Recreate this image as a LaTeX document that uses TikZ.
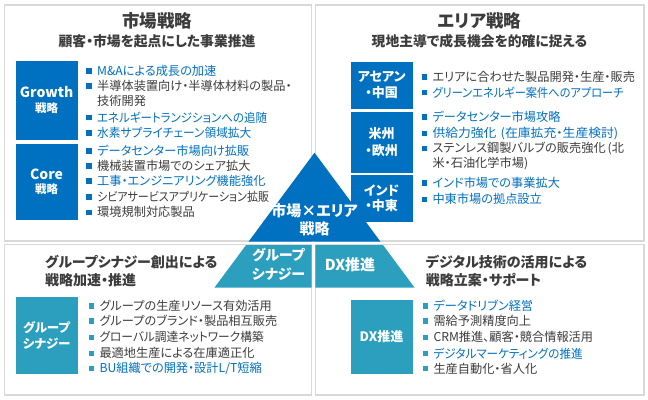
\documentclass[tikz,border=0pt]{standalone}
\usepackage{fontspec}
\setmainfont[RawFeature=+palt]{Noto Sans CJK JP}
\definecolor{mblue}{HTML}{0070C0}
\definecolor{mteal}{HTML}{2C9FBE}
\definecolor{mdark}{HTML}{3C3C3C}
\definecolor{mframe}{HTML}{D9D9D9}
\newcommand{\litem}[6]{%
  \fill[#5] (#2-10.6,#3-2.6) rectangle (#2-5.2,#3+2.8);
  \node[txt,text=#4] (#1) at (#2,#3) {#6};}
\newcommand{\sq}[2]{\scalebox{#1}[1]{#2}}
\begin{document}
\begin{tikzpicture}[x=1pt,y=-1pt,
  panel/.style={draw=mframe,line width=1.3pt,fill=white},
  txt/.style={anchor=west,inner sep=0pt,font=\fontsize{12.2}{14}\selectfont},
  ttl/.style={inner sep=0pt,text=mdark,font=\fontsize{17.5}{20}\selectfont\bfseries},
  sub/.style={inner sep=0pt,text=mdark,font=\fontsize{13.8}{17}\selectfont\bfseries},
  btitle/.style={anchor=west,inner sep=0pt,text=mdark,align=left,font=\fontsize{14}{18.5}\selectfont\bfseries},
  bx/.style={anchor=north west,inner sep=0pt,text=white,align=center},
  tri/.style={inner sep=0pt,text=white,align=center,font=\fontsize{15}{17.6}\selectfont\bfseries}]
\useasboundingbox (0,0) rectangle (648,399);
\fill[white] (0,0) rectangle (648,399);
% panels
\draw[panel] (4.5,5) rectangle (311.5,241);
\draw[panel] (315.5,5) rectangle (644,241);
\draw[panel] (4.5,244.5) rectangle (311.5,395);
\draw[panel] (315.5,244.5) rectangle (644,395);
% ---------- top left
\node[ttl] (t1) at (157,20.5) {市場戦略};
\node[sub] (s1) at (157,41.5) {顧客・市場を起点にした事業推進};
\node[bx,fill=mblue,minimum width=61.3pt,minimum height=78.3pt] (growth) at (16,61) {};
\node[inner sep=0pt,text=white,align=center,font=\fontsize{14}{15.6}\selectfont\bfseries] (growthT) at (46.6,100) {Growth\\[-1pt]{\fontsize{11.5}{13}\selectfont 戦略}};
\node[bx,fill=mblue,minimum width=61.3pt,minimum height=75.3pt] (core) at (16,144) {};
\node[inner sep=0pt,text=white,align=center,font=\fontsize{14}{15.6}\selectfont\bfseries] (coreT) at (46.6,181.7) {Core\\[-1pt]{\fontsize{11.5}{13}\selectfont 戦略}};
\litem{a1}{97}{70.7}{mblue}{mblue}{M\&Aによる成長の加速}
\litem{a2}{97}{86}{mdark}{mblue}{半導体装置向け・半導体材料の製品・}
\node[txt,text=mdark] (a2b) at (97,101.3) {技術開発};
\litem{a3}{97}{117.3}{mblue}{mblue}{\sq{0.94}{エネルギートランジションへの追随}}
\litem{a4}{97}{132.7}{mblue}{mblue}{\sq{0.96}{水素サプライチェーン領域拡大}}
\litem{a5}{97}{150.7}{mblue}{mblue}{データセンター市場向け拡販}
\litem{a6}{97}{165.8}{mdark}{mblue}{機械装置市場でのシェア拡大}
\litem{a7}{97}{181}{mblue}{mblue}{工事・エンジニアリング機能強化}
\litem{a8}{97}{196.7}{mdark}{mblue}{\sq{0.9}{シビアサービスアプリケーション拡販}}
\litem{a9}{97}{212.3}{mdark}{mblue}{環境規制対応製品}
% ---------- top right
\node[ttl] (t2) at (479.5,20.5) {エリア戦略};
\node[sub] (s2) at (479.5,41.5) {現地主導で成長機会を的確に捉える};
\node[bx,fill=mblue,minimum width=61.3pt,minimum height=46.6pt] (asean) at (351,61.7) {};
\node[inner sep=0pt,text=white,align=center,font=\fontsize{13}{16}\selectfont\bfseries] (aseanT) at (381.6,85) {アセアン\\・中国};
\node[bx,fill=mblue,minimum width=61.3pt,minimum height=60.6pt] (us) at (351,111.7) {};
\node[inner sep=0pt,text=white,align=center,font=\fontsize{13}{16.5}\selectfont\bfseries] (usT) at (381.6,142) {米州\\・欧州};
\node[bx,fill=mblue,minimum width=61.3pt,minimum height=46.7pt] (india) at (351,175) {};
\node[inner sep=0pt,text=white,align=center,font=\fontsize{13}{15}\selectfont\bfseries] (indiaT) at (381.6,198.4) {インド\\・中東};
\litem{b1}{432.3}{76.7}{mdark}{mblue}{エリアに合わせた製品開発・生産・販売}
\litem{b2}{432.3}{92.5}{mblue}{mblue}{\sq{0.92}{グリーンエネルギー案件へのアプローチ}}
\litem{b3}{432.3}{116.7}{mblue}{mblue}{データセンター市場攻略}
\litem{b4}{432.3}{133.5}{mblue}{mblue}{\sq{1.05}{供給力強化\hspace{4pt}(在庫拡充・生産検討)}}
\litem{b5}{432.3}{148.5}{mdark}{mblue}{ステンレス鋼製バルブの販売強化\hspace{2pt}(北}
\node[txt,text=mdark] (b5b) at (432.3,163.5) {米・石油化学市場)};
\litem{b6}{432.3}{182.7}{mblue}{mblue}{インド市場での事業拡大}
\litem{b7}{432.3}{199.3}{mblue}{mblue}{中東市場の拠点設立}
% ---------- bottom left
\node[btitle] (t3) at (45,271) {グループシナジー創出による\\戦略加速・推進};
\node[bx,fill=mteal,minimum width=61.3pt,minimum height=77.3pt] (gs) at (16,296.7) {};
\node[inner sep=0pt,text=white,align=center,font=\fontsize{12.5}{15.6}\selectfont\bfseries] (gsT) at (46.6,335.5) {グループ\\シナジー};
\litem{c1}{99.3}{306}{mdark}{mteal}{グループの生産リソース有効活用}
\litem{c2}{99.3}{321}{mdark}{mteal}{グループのブランド・製品相互販売}
\litem{c3}{99.3}{337.3}{mdark}{mteal}{\sq{0.96}{グローバル調達ネットワーク構築}}
\litem{c4}{99.3}{353.3}{mdark}{mteal}{最適地生産による在庫適正化}
\litem{c5}{99.3}{368.5}{mblue}{mteal}{BU組織での開発・設計L/T短縮}
% ---------- bottom right
\node[btitle] (t4) at (425.7,271) {デジタル技術の活用による\\戦略立案・サポート};
\node[bx,fill=mteal,minimum width=61.6pt,minimum height=74.7pt] (dx) at (350.7,299.3) {};
\node[inner sep=0pt,text=white,font=\fontsize{13}{15}\selectfont\bfseries] (dxT) at (381.5,337) {DX推進};
\litem{d1}{433.3}{306}{mblue}{mteal}{データドリブン経営}
\litem{d2}{433.3}{321}{mdark}{mteal}{需給予測精度向上}
\litem{d3}{433.3}{337.3}{mdark}{mteal}{CRM推進、顧客・競合情報活用}
\litem{d4}{433.3}{353.3}{mblue}{mteal}{\sq{0.95}{デジタルマーケティングの推進}}
\litem{d5}{433.3}{368.5}{mdark}{mteal}{生産自動化・省人化}
% ---------- central pyramid
\fill[mblue] (314.5,152.7) -- (380.5,241.7) -- (248.5,241.7) -- cycle;
\fill[mteal] (246.1,245) -- (311.7,245) -- (311.7,287.7) -- (214.4,287.7) -- cycle;
\fill[mteal] (315.3,245) -- (383,245) -- (414.6,287.7) -- (315.3,287.7) -- cycle;
\node[tri] (pT) at (314.5,219.5) {市場×エリア\\戦略};
\node[tri,font=\fontsize{14}{18.3}\selectfont\bfseries] (pG) at (278.5,264.2) {グループ\\シナジー};
\node[tri] (pD) at (350,264.5) {DX推進};
\end{tikzpicture}
\end{document}
